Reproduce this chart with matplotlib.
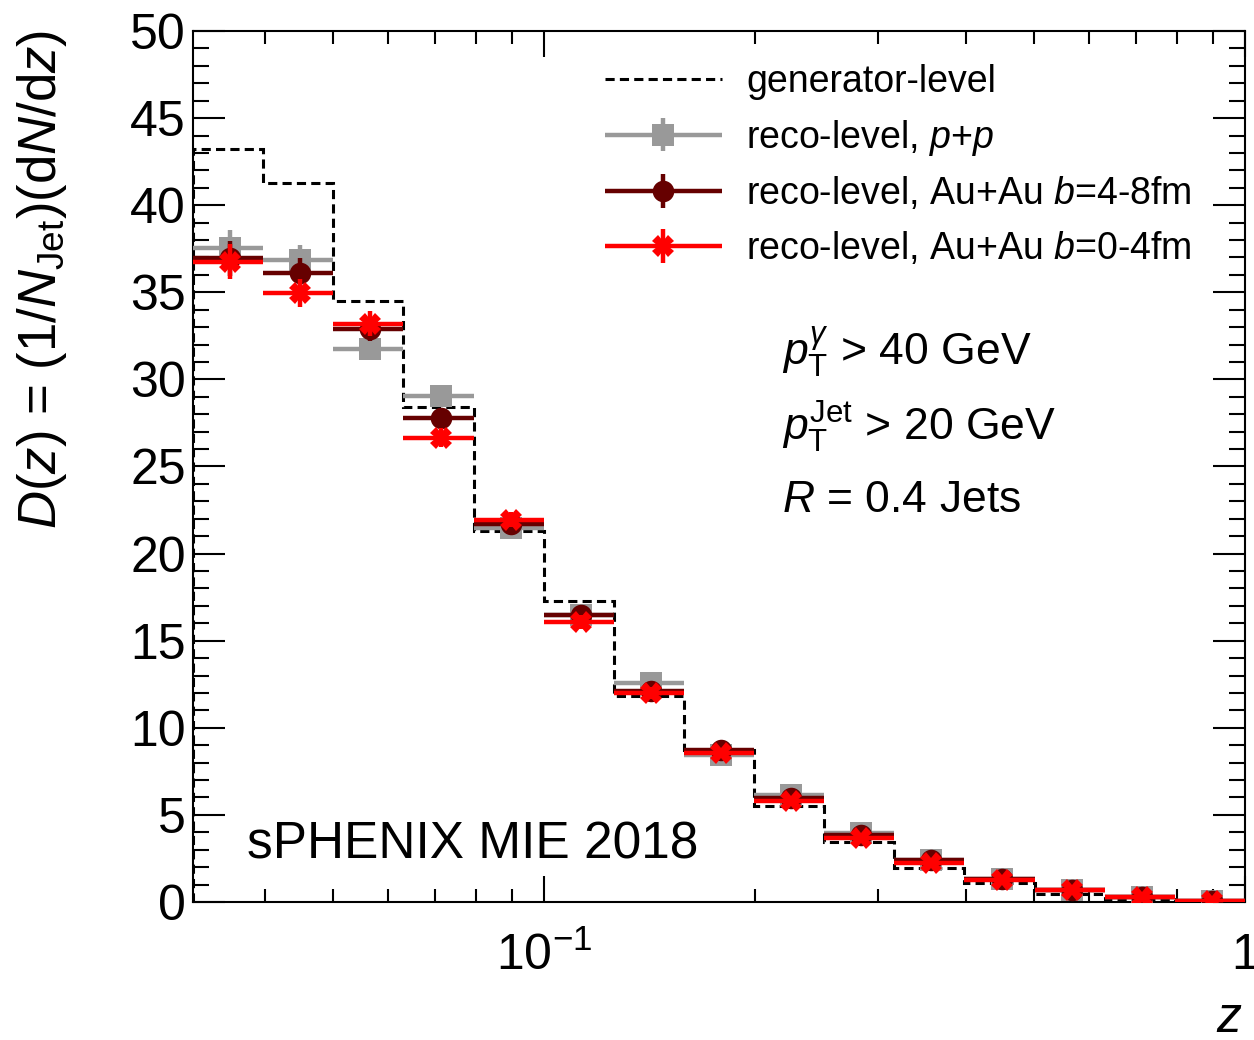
import matplotlib
matplotlib.use("Agg")
import matplotlib.pyplot as plt
from matplotlib.lines import Line2D
from matplotlib.ticker import MultipleLocator, LogLocator, FixedLocator, FuncFormatter, NullFormatter
from matplotlib.container import ErrorbarContainer
from matplotlib.legend_handler import HandlerErrorbar

plt.rcParams['font.family'] = ['Liberation Sans', 'DejaVu Sans']
plt.rcParams['mathtext.fontset'] = 'custom'
plt.rcParams['mathtext.rm'] = 'Liberation Sans'
plt.rcParams['mathtext.it'] = 'Liberation Sans:italic'
plt.rcParams['mathtext.bf'] = 'Liberation Sans:bold'

# 15 log-spaced z bins, 10^-1.5 .. 1
bin_edges = [0.03162, 0.03981, 0.05012, 0.06310, 0.07943, 0.1, 0.1259, 0.1585,
             0.1995, 0.2512, 0.3162, 0.3981, 0.5012, 0.6310, 0.7943, 1.0]

gen_level = [43.2, 41.3, 34.5, 28.4, 21.3, 17.3, 11.8, 8.75, 5.5, 3.43, 1.93, 1.07, 0.44, 0.2, 0.05]

reco_pp = [37.55, 36.85, 31.75, 29.05, 21.45, 16.5, 12.55, 8.45, 6.15, 3.95, 2.4, 1.3, 0.7, 0.3, 0.08]
reco_pp_err = [1.0, 0.85, 0.65, 0.55, 0.45, 0.4, 0.35, 0.3, 0.25, 0.2, 0.15, 0.1, 0.08, 0.05, 0.03]

reco_mid = [36.95, 36.1, 32.9, 27.8, 21.7, 16.45, 12.1, 8.75, 5.95, 3.85, 2.4, 1.3, 0.7, 0.3, 0.08]
reco_mid_err = [1.0, 0.85, 0.7, 0.55, 0.45, 0.4, 0.35, 0.3, 0.25, 0.2, 0.15, 0.1, 0.08, 0.05, 0.03]

reco_central = [36.75, 34.95, 33.2, 26.65, 21.95, 16.05, 12.0, 8.55, 5.8, 3.65, 2.25, 1.25, 0.68, 0.3, 0.08]
reco_central_err = [1.0, 0.8, 0.7, 0.55, 0.45, 0.4, 0.35, 0.3, 0.25, 0.2, 0.15, 0.1, 0.08, 0.05, 0.03]

centers = [(lo + hi) / 2 for lo, hi in zip(bin_edges[:-1], bin_edges[1:])]
xerr = [[c - lo for c, lo in zip(centers, bin_edges[:-1])],
        [hi - c for c, hi in zip(centers, bin_edges[1:])]]

GRAY = '#999999'
DARKRED = '#660000'
RED = '#ff0000'

fig = plt.figure(figsize=(12.54, 10.40), dpi=100)
ax = fig.add_axes([193 / 1254, 1 - 902 / 1040, 1052 / 1254, 871 / 1040])

dash = (0, (3.0, 1.7))
ax.stairs(gen_level, bin_edges, color='black', linestyle=dash, linewidth=2.2, zorder=2)

series = [
    (reco_pp, reco_pp_err, 's', GRAY),
    (reco_mid, reco_mid_err, 'o', DARKRED),
    (reco_central, reco_central_err, 'X', RED),
]
handles = []
for i, (vals, errs, mk, col) in enumerate(series):
    h = ax.errorbar(centers, vals, xerr=xerr, yerr=errs, fmt=mk, color=col,
                    ms=15.5, mew=0, elinewidth=3.2, capsize=0, zorder=3 + i)
    handles.append(h)

ax.set_xscale('log')
ax.set_xlim(bin_edges[0], bin_edges[-1])
ax.set_ylim(0, 50)

ax.yaxis.set_major_locator(MultipleLocator(5))
ax.yaxis.set_minor_locator(MultipleLocator(1))
ax.xaxis.set_major_locator(FixedLocator([0.1, 1.0]))
ax.xaxis.set_minor_locator(LogLocator(base=10, subs=[2, 3, 4, 5, 6, 7, 8, 9]))
ax.xaxis.set_minor_formatter(NullFormatter())


def xfmt(v, pos):
    if abs(v - 0.1) < 1e-9:
        return r'$10^{-1}$'
    if abs(v - 1.0) < 1e-9:
        return '1'
    return ''


ax.xaxis.set_major_formatter(FuncFormatter(xfmt))

for sp in ax.spines.values():
    sp.set_linewidth(1.5)

ax.tick_params(axis='both', which='both', direction='in', top=True, right=True,
               width=1.5, labelsize=36)
ax.tick_params(axis='y', which='major', length=23, pad=5)
ax.tick_params(axis='y', which='minor', length=11.5)
ax.tick_params(axis='x', which='major', length=19, pad=22)
ax.tick_params(axis='x', which='minor', length=9.5)

fig.text(15 / 1254, 1 - 30 / 1040, r'$D(z)$ = (1/$N_{\mathrm{Jet}}$)(d$N$/d$z$)',
         rotation=90, ha='left', va='top', fontsize=38)
ax.text(0.998, (902 - 1032) / 871, r'$z$', transform=ax.transAxes,
        ha='right', va='baseline', fontsize=36)

ax.text(0.0513, 0.0494, 'sPHENIX MIE 2018', transform=ax.transAxes,
        fontsize=37, va='baseline')
ax.text(0.5599, 0.6165, r'$p_{\mathrm{T}}^{\gamma}$ > 40 GeV', transform=ax.transAxes,
        fontsize=32, va='baseline')
ax.text(0.5599, 0.530, r'$p_{\mathrm{T}}^{\mathrm{Jet}}$ > 20 GeV', transform=ax.transAxes,
        fontsize=32, va='baseline')
ax.text(0.5599, 0.4478, r'$R$ = 0.4 Jets', transform=ax.transAxes,
        fontsize=32, va='baseline')

gen_handle = Line2D([], [], color='black', linestyle=dash, linewidth=2.2)
labels = ['generator-level',
          r'reco-level, $p$+$p$',
          r'reco-level, Au+Au $b$=4-8fm',
          r'reco-level, Au+Au $b$=0-4fm']
hl = 3.12
ax.legend([gen_handle] + handles, labels, loc='upper left',
          bbox_to_anchor=(0.3916, 0.962), frameon=False, borderpad=0,
          borderaxespad=0, handlelength=hl, handletextpad=0.64,
          labelspacing=0.47, fontsize=27,
          handler_map={ErrorbarContainer: HandlerErrorbar(xerr_size=hl / 2, yerr_size=0.45)})

fig.savefig('out.png', dpi=100)
